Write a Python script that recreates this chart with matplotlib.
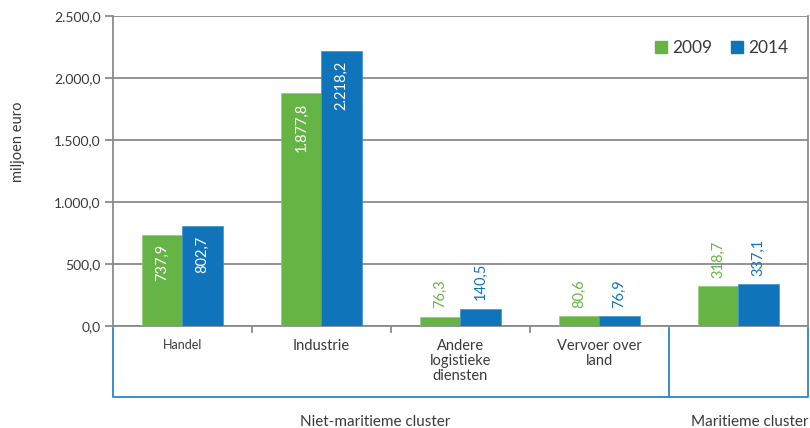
import numpy as np
import matplotlib.pyplot as plt
from matplotlib.patches import Patch

plt.rcParams['font.family'] = ['Lato', 'DejaVu Sans']

# data
categories = ['Handel', 'Industrie', 'Andere\nlogistieke\ndiensten', 'Vervoer over\nland', '']
groups = ['Niet-maritieme cluster', 'Maritieme cluster']
years = ['2009', '2014']
vals_2009 = [737.9, 1877.8, 76.3, 80.6, 318.7]
vals_2014 = [802.7, 2218.2, 140.5, 76.9, 337.1]

green = '#67b446'
blue = '#0f74ba'
line_blue = '#2a86cc'
grey = '#8a8a8a'
txt = '#3a3a3a'


def nl(v, dec=1):
    s = f'{v:,.{dec}f}'
    return s.replace(',', 'X').replace('.', ',').replace('X', '.')


fig = plt.figure(figsize=(8.1, 4.28), dpi=100)
ax = fig.add_axes([0.1395, 0.2383, 0.858, 0.7243])

x = np.arange(len(categories))
w = 0.288
b1 = ax.bar(x - w / 2, vals_2009, w, color=green, edgecolor='#8fcc72', linewidth=0.5, zorder=3)
b2 = ax.bar(x + w / 2, vals_2014, w, color=blue, edgecolor='#3b93d0', linewidth=0.5, zorder=3)

for bars, vals, col in ((b1, vals_2009, green), (b2, vals_2014, blue)):
    for r, v in zip(bars, vals):
        cx = r.get_x() + r.get_width() / 2
        if v > 500:
            ax.annotate(nl(v), (cx, v), xytext=(0, -7), textcoords='offset points',
                        rotation=90, ha='center', va='top', color='white', fontsize=10.5)
        else:
            ax.annotate(nl(v), (cx, v), xytext=(0, 6), textcoords='offset points',
                        rotation=90, ha='center', va='bottom', color=col, fontsize=10.5)

ax.set_xlim(-0.5, len(categories) - 0.5)
ax.set_ylim(0, 2500)
ax.set_yticks(np.arange(0, 2501, 500))
ax.set_yticklabels([nl(t) for t in np.arange(0, 2501, 500)], fontsize=10, color=txt)
ax.yaxis.grid(True, color=grey, linewidth=1.3, zorder=0)
ax.tick_params(axis='y', length=6, width=1.3, color=grey, pad=3)
ax.set_xticks([])
for s in ['left', 'right', 'bottom', 'top']:
    ax.spines[s].set_color(grey)
    ax.spines[s].set_linewidth(1.3)
ax.spines['top'].set_visible(False)

# category ticks below the axis
tr = ax.get_xaxis_transform()
for b in [0.5, 1.5, 2.5]:
    ax.plot([b, b], [0, -0.018], color=grey, lw=1.3, transform=tr, clip_on=False)

# table boxes
lo = -0.229
ax.plot([-0.5, -0.5, 4.5, 4.5], [-0.006, lo, lo, -0.006], color=line_blue, lw=1.3,
        transform=tr, clip_on=False)
ax.plot([3.5, 3.5], [-0.006, lo], color=line_blue, lw=1.3, transform=tr, clip_on=False)

for i, c in enumerate(categories):
    fs = 9 if i == 0 else 10.5
    ax.text(i, -0.042, c, transform=tr, ha='center', va='top', fontsize=fs,
            color=txt, linespacing=1.1)

ax.text(1.385, -0.31, groups[0], transform=tr, ha='center', va='center', fontsize=11, color=txt)
ax.text(4.08, -0.31, groups[1], transform=tr, ha='center', va='center', fontsize=11, color=txt)

fig.text(0.022, 0.668, 'miljoen euro', rotation=90, ha='center', va='center',
         fontsize=10.5, color=txt)

handles = [Patch(color=green, label=years[0]), Patch(color=blue, label=years[1])]
ax.legend(handles=handles, loc='center left', bbox_to_anchor=(0.757, 0.897), ncol=2,
          frameon=False, handlelength=0.7, handleheight=0.7, handletextpad=0.3,
          columnspacing=1.1, fontsize=12.5, labelcolor=txt)

fig.savefig('out.png', dpi=100)
